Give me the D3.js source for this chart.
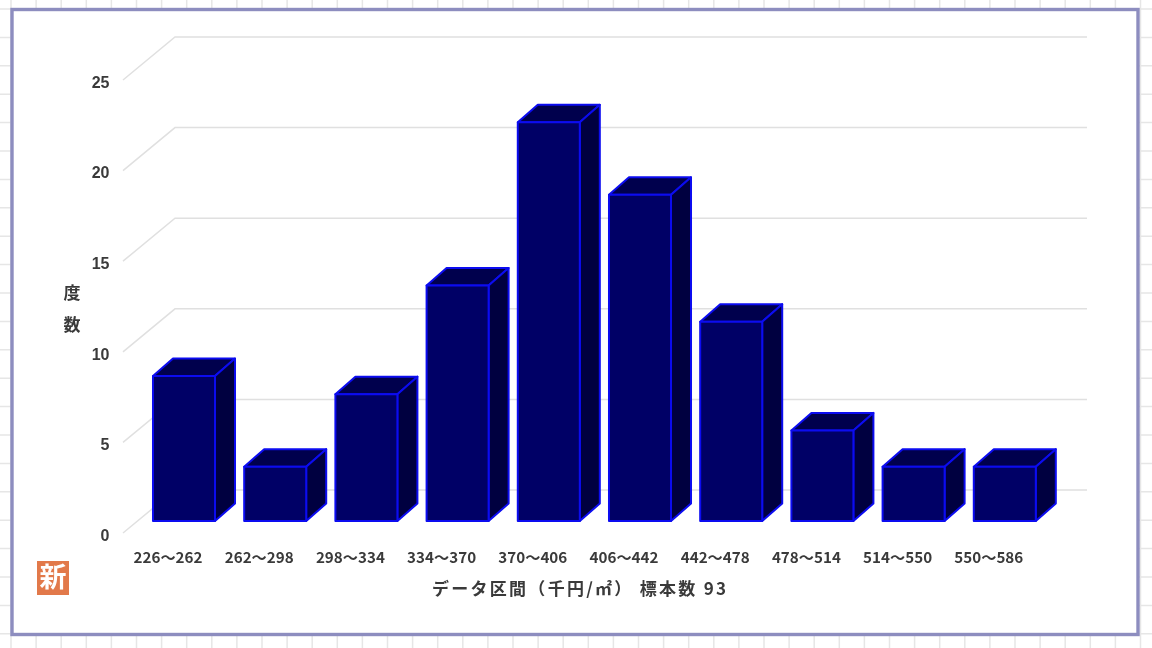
<!DOCTYPE html>
<html>
<head>
<meta charset="utf-8">
<script src="https://cdnjs.cloudflare.com/ajax/libs/d3/7.8.5/d3.min.js"></script>
<style>
html, body { margin: 0; padding: 0; background: #fff; }
svg { display: block; }
text { font-family: "Noto Sans CJK JP", "DejaVu Sans", sans-serif; fill: #3a3a3a; }
.soft { filter: blur(0.5px); }
.grid { fill: none; stroke: #e0e0e0; stroke-width: 1.5; }
.sheet { stroke: #e6e6e6; stroke-width: 1.5; }
.bar { stroke: #0c0cf0; stroke-width: 2; stroke-linejoin: round; }
</style>
</head>
<body>
<svg id="svg" width="1152" height="648"></svg>
<script>
// data
var categories = ["226～262","262～298","298～334","334～370","370～406","406～442","442～478","478～514","514～550","550～586"];
var counts = [8,3,7,13,22,18,11,5,3,3];
var yTicks = [0,5,10,15,20,25];
var yTitle = ["度","数"];
var xTitle = "データ区間（千円/㎡） 標本数 93";

var svg = d3.select("#svg");

var x = d3.scaleBand().domain(categories).range([138.4,1050.4]).paddingInner(0.32).paddingOuter(0.16);
var y = d3.scaleLinear().domain([0,25]).range([521,68]);

// depth of the bars and of the floor
var barDx = 20, barDy = 17.5;
var wallDx = 52, wallDy = 43;
var frontAxisY = 12;   // tick labels sit lower than the bar base
var wallLeft = 123;

// spreadsheet grid behind the frame
var sheet = svg.append("g").attr("class","sheet soft");
sheet.selectAll("line.v").data(d3.range(11,1152,25.1)).enter().append("line")
  .attr("class","v").attr("x1",d=>d).attr("x2",d=>d).attr("y1",0).attr("y2",648);
sheet.selectAll("line.h").data(d3.range(9,648,28.4)).enter().append("line")
  .attr("class","h").attr("x1",0).attr("x2",1152).attr("y1",d=>d).attr("y2",d=>d);

// frame
svg.append("rect").attr("class","soft")
  .attr("x",12).attr("y",9.5).attr("width",1126).attr("height",625)
  .attr("fill","#fff").attr("stroke","#8d8dbf").attr("stroke-width",3.4);

// back wall grid lines
var grid = svg.append("g").attr("class","soft");
grid.selectAll("path").data(yTicks).enter().append("path")
  .attr("class","grid")
  .attr("d", function(d){
    var y0 = y(d) + frontAxisY;
    return "M"+wallLeft+" "+y0+" L"+(wallLeft+wallDx)+" "+(y0-wallDy)+" L1087 "+(y0-wallDy);
  });

// bars
var bars = svg.selectAll("g.barGroup").data(categories).enter().append("g").attr("class","barGroup");

bars.append("path").attr("class","bar").attr("fill","#00004d")   // top
  .attr("d", function(d,i){
    var l = x(d), r = l + x.bandwidth(), t = y(counts[i]);
    return "M"+l+" "+t+" L"+(l+barDx)+" "+(t-barDy)+" L"+(r+barDx)+" "+(t-barDy)+" L"+r+" "+t+" Z";
  });
bars.append("path").attr("class","bar").attr("fill","#000040")   // side
  .attr("d", function(d,i){
    var r = x(d) + x.bandwidth(), t = y(counts[i]), b = y(0);
    return "M"+r+" "+t+" L"+(r+barDx)+" "+(t-barDy)+" L"+(r+barDx)+" "+(b-barDy)+" L"+r+" "+b+" Z";
  });
bars.append("rect").attr("class","bar").attr("fill","#000066")   // front
  .attr("x",d=>x(d))
  .attr("y",(d,i)=>y(counts[i]))
  .attr("width",x.bandwidth())
  .attr("height",(d,i)=>y(0)-y(counts[i]));

// y axis labels
var yAxis = d3.axisLeft(y).tickValues(yTicks).tickSize(0).tickPadding(0);
var yg = svg.append("g").attr("class","soft")
  .attr("transform","translate(109.5 "+(frontAxisY+1.5)+")").call(yAxis);
yg.select(".domain").remove();
yg.selectAll("text").attr("font-size",16).attr("font-weight",700).style("font-family","'Liberation Sans'")
  .attr("dy","0.36em");

// x axis labels
var xAxis = d3.axisBottom(x).tickSize(0).tickPadding(0);
var xg = svg.append("g").attr("class","soft")
  .attr("transform","translate(-16 550.5)").call(xAxis);
xg.select(".domain").remove();
xg.selectAll("text").attr("font-size",15).attr("font-weight",700)
  .style("font-family","'Noto Sans CJK JP'").attr("dy","0.8em")
  .attr("textLength",69).attr("lengthAdjust","spacingAndGlyphs");

// axis titles
svg.append("g").attr("class","soft").selectAll("text").data(yTitle).enter().append("text")
  .attr("x",72).attr("y",(d,i)=>294+i*32)
  .attr("text-anchor","middle").attr("dominant-baseline","middle")
  .attr("font-size",17).attr("font-weight",700).text(d=>d);

svg.append("text").attr("class","soft")
  .attr("x",579).attr("y",590.5)
  .attr("text-anchor","middle").attr("dominant-baseline","middle")
  .attr("font-size",17).attr("font-weight",700)
  .attr("textLength",294).attr("lengthAdjust","spacing").text(xTitle);

// "new" stamp
var stamp = svg.append("g").attr("class","soft");
stamp.append("rect").attr("x",37).attr("y",561).attr("width",32).attr("height",34).attr("fill","#e2794a");
stamp.append("text").attr("x",53).attr("y",579.5)
  .attr("text-anchor","middle").attr("dominant-baseline","middle")
  .attr("font-size",27).attr("font-weight",700).style("fill","#fff").text("新");
</script>
</body>
</html>
